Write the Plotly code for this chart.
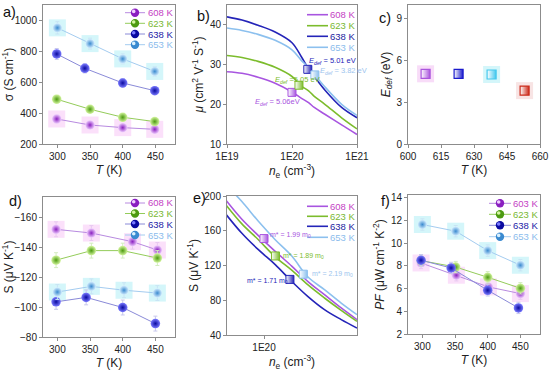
import numpy as np
import plotly.graph_objects as go

W, H = 550, 372
FONT = "Liberation Sans, Arial, sans-serif"

# ---------------- data ----------------
labels = ["608 K", "623 K", "638 K", "653 K"]
labels_f = ["603 K", "623 K", "638 K", "653 K"]

# (a) conductivity
T_sig = {"608 K": [299, 350, 400, 449], "623 K": [299, 350, 400, 449],
         "638 K": [299, 342, 400, 449], "653 K": [300, 350, 400, 449]}
sigma = {"608 K": [362, 323, 306, 295], "623 K": [490, 425, 373, 345],
         "638 K": [783, 690, 595, 545], "653 K": [952, 850, 751, 670]}
sigma_err = {"608 K": [25, 22, 20, 20], "623 K": [25, 22, 20, 20],
             "638 K": [35, 30, 28, 25], "653 K": [40, 35, 32, 30]}

# (b) mobility model curves
n_b = [1.0e19, 1.7e19, 3.0e19, 5.5e19, 1.0e20, 1.4e20, 1.8e20, 2.2e20, 3.2e20, 5.8e20, 1.0e21]
mu = {"608 K": [28.2, 27.8, 26.8, 25.3, 23.1, 21.5, 20.4, 19.2, 17.5, 14.8, 12.4],
      "623 K": [32.3, 31.8, 30.8, 29.3, 27.0, 24.6, 23.4, 22.0, 20.0, 16.6, 13.8],
      "638 K": [42.0, 41.2, 39.9, 38.2, 35.5, 31.9, 28.9, 27.0, 23.6, 19.2, 16.6],
      "653 K": [39.2, 38.6, 37.6, 36.1, 33.7, 31.0, 29.3, 27.6, 24.4, 20.0, 17.2]}
n_mu_pt = {"608 K": 1.0e20, "623 K": 1.28e20, "638 K": 1.75e20, "653 K": 2.25e20}
mu_pt = {"608 K": 23.0, "623 K": 24.8, "638 K": 28.8, "653 K": 27.4}
Edef_text = {"608 K": "5.06eV", "623 K": "5.05 eV", "638 K": "5.01 eV", "653 K": "3.82 eV"}

# (c) deformation potential
T_c = [608, 623, 638, 653]
Edef = [5.05, 5.05, 5.00, 3.84]

# (d) Seebeck
T_S = {"608 K": [298, 352, 415, 453], "623 K": [298, 352, 400, 453],
       "638 K": [298, 344, 400, 450], "653 K": [300, 352, 402, 453]}
S = {"608 K": [-152.3, -149.8, -144.0, -138.4], "623 K": [-131.6, -138.0, -138.0, -133.0],
     "638 K": [-103.6, -106.6, -99.8, -89.0], "653 K": [-110.2, -114.0, -111.4, -109.5]}

# (e) Pisarenko curves
n_e = [3.8e19, 5.75e19, 8.7e19, 1.32e20, 2.0e20, 2.95e20, 4.47e20, 6.76e20, 1.0e21]
S_curve = {"608 K": [196.6, 173.5, 154.4, 136.3, 119.0, 101.8, 86.4, 71.1, 57.7],
           "623 K": [191.2, 168.2, 149.7, 130.0, 114.4, 97.9, 82.6, 68.4, 55.7],
           "638 K": [180.4, 157.4, 138.2, 121.0, 101.4, 84.5, 69.2, 57.7, 48.0],
           "653 K": [214.0, 193.9, 170.9, 149.7, 130.6, 107.0, 92.2, 76.8, 63.4]}
n_S_pt = {"608 K": 1.0e20, "623 K": 1.33e20, "638 K": 1.9e20, "653 K": 2.65e20}
S_pt = {"608 K": 151, "623 K": 131, "638 K": 104, "653 K": 110}
mstar_text = {"608 K": "1.99", "623 K": "1.89", "638 K": "1.71", "653 K": "2.19"}

# (f) power factor
T_PF = {"608 K": [298, 352, 401, 450], "623 K": [298, 351, 400, 450],
        "638 K": [298, 344, 400, 447], "653 K": [300, 351, 400, 450]}
PF = {"608 K": [8.26, 7.18, 6.15, 5.56], "623 K": [8.47, 7.90, 7.00, 6.03],
      "638 K": [8.50, 7.82, 5.85, 4.30], "653 K": [11.65, 11.06, 9.35, 8.06]}

# ---------------- styles ----------------
dark = {"608 K": "#8a1fc0", "623 K": "#4c9a10", "638 K": "#0a0aa0", "653 K": "#3a8ad0"}
light = {"608 K": "#f0d0ff", "623 K": "#d4f5a0", "638 K": "#7a7aff", "653 K": "#d8f0ff"}
linec = {"608 K": "#b88ae0", "623 K": "#94cc5a", "638 K": "#8a8ad8", "653 K": "#a4ccf0"}
errc = {"608 K": "#e8c8f0", "623 K": "#d4ecc0", "638 K": "#c8c8ec", "653 K": "#c8e4f4"}
textc = {"608 K": "#c43fc4", "623 K": "#78b832", "638 K": "#2424a8", "653 K": "#8cbcec"}
curvec = {"608 K": "#a855e0", "623 K": "#7cbc2c", "638 K": "#2424b8", "653 K": "#8cc0ee"}
boxc = {"608 K": "#fbe0fa", "653 K": "#d4f6fa"}
c_colors = ["#aa55dd", "#1a1acc", "#44c8ee", "#cc2a1a"]
c_box = ["#f8dcf8", None, "#d4f6fa", "#f8e4e4"]


def px_x(x):
    return x / W


def px_y(y):
    return 1 - y / H


fig = go.Figure()


def scatter_panel(xa, ya, xs, ys, errs=None):
    for lab in labels:
        if lab in boxc:
            fig.add_trace(go.Scatter(x=xs[lab], y=ys[lab], mode="markers", xaxis=xa, yaxis=ya,
                                     marker=dict(symbol="square", size=17, color=boxc[lab]),
                                     showlegend=False, hoverinfo="skip"))
    for lab in labels:
        ed = None
        if errs is not None:
            ed = dict(type="data", array=errs[lab], color=errc[lab], thickness=1, width=2)
        fig.add_trace(go.Scatter(x=xs[lab], y=ys[lab], mode="lines+markers", xaxis=xa, yaxis=ya,
                                 line=dict(color=linec[lab], width=1),
                                 error_y=ed,
                                 marker=dict(size=9.5, color=light[lab],
                                             gradient=dict(type="radial", color=dark[lab]),
                                             line=dict(width=0)),
                                 showlegend=False, name=lab))


S_err = {lab: [5, 5, 5, 5] for lab in labels}
PF_err = {lab: [0.5, 0.5, 0.5, 0.5] for lab in labels}

scatter_panel("x", "y", T_sig, sigma, sigma_err)
scatter_panel("x4", "y4", T_S, S, S_err)
scatter_panel("x6", "y6", T_PF, PF, PF_err)

# (b) curves
for lab in labels:
    fig.add_trace(go.Scatter(x=n_b, y=mu[lab], mode="lines", xaxis="x2", yaxis="y2",
                             line=dict(color=curvec[lab], width=1.6, shape="spline"),
                             showlegend=False))
for lab in labels:
    fig.add_trace(go.Scatter(x=[n_mu_pt[lab]], y=[mu_pt[lab]], mode="markers", xaxis="x2", yaxis="y2",
                             marker=dict(symbol="square", size=8, color="white",
                                         gradient=dict(type="horizontal", color=curvec[lab]),
                                         line=dict(color=curvec[lab], width=1)),
                             showlegend=False))
# (e) curves
for lab in labels:
    fig.add_trace(go.Scatter(x=n_e, y=S_curve[lab], mode="lines", xaxis="x5", yaxis="y5",
                             line=dict(color=curvec[lab], width=1.6, shape="spline"),
                             showlegend=False))
for lab in labels:
    fig.add_trace(go.Scatter(x=[n_S_pt[lab]], y=[S_pt[lab]], mode="markers", xaxis="x5", yaxis="y5",
                             marker=dict(symbol="square", size=8, color="white",
                                         gradient=dict(type="horizontal", color=curvec[lab]),
                                         line=dict(color=curvec[lab], width=1)),
                             showlegend=False))
# (c)
for i in range(4):
    if c_box[i]:
        fig.add_trace(go.Scatter(x=[T_c[i]], y=[Edef[i]], mode="markers", xaxis="x3", yaxis="y3",
                                 marker=dict(symbol="square", size=17, color=c_box[i]),
                                 showlegend=False, hoverinfo="skip"))
    fig.add_trace(go.Scatter(x=[T_c[i]], y=[Edef[i]], mode="markers", xaxis="x3", yaxis="y3",
                             marker=dict(symbol="square", size=9, color="white",
                                         gradient=dict(type="horizontal", color=c_colors[i]),
                                         line=dict(color=c_colors[i], width=1.2)),
                             showlegend=False))

# ---------------- axes ----------------
ax_common = dict(showline=True, mirror=True, linecolor="#8c8c8c", linewidth=1, ticks="outside",
                 ticklen=3, tickcolor="#8c8c8c", showgrid=False, zeroline=False, automargin=False,
                 tickfont=dict(size=10, color="#222", family=FONT),
                 title_font=dict(size=12, color="#222", family=FONT))

top = [px_y(144), px_y(5)]
cols = [[px_x(43), px_x(175)], [px_x(227), px_x(357)], [px_x(408), px_x(540)]]

T_title = dict(text="<i>T</i> (K)", standoff=4)
n_title = dict(text="<i>n</i><sub>e</sub> (cm<sup>-3</sup>)", standoff=4)

fig.update_layout(
    xaxis=dict(ax_common, domain=cols[0], anchor="y", range=[278, 480], tickvals=[300, 350, 400, 450], title=T_title),
    yaxis=dict(ax_common, domain=top, anchor="x", range=[200, 1100], tickvals=[200, 400, 600, 800, 1000],
               title=dict(text="σ (S cm<sup>-1</sup>)", standoff=3)),
    xaxis2=dict(ax_common, domain=cols[1], anchor="y2", type="log", range=[19, 21],
                tickvals=[1e19, 1e20, 1e21], ticktext=["1E19", "1E20", "1E21"], title=n_title),
    yaxis2=dict(ax_common, domain=top, anchor="x2", range=[10, 45], tickvals=[10, 20, 30, 40],
                title=dict(text="<i>μ</i> (cm<sup>2</sup> V<sup>-1</sup> S<sup>-1</sup>)", standoff=3)),
    xaxis3=dict(ax_common, domain=cols[2], anchor="y3", range=[600, 660], tickvals=[600, 615, 630, 645, 660],
                title=T_title),
    yaxis3=dict(ax_common, domain=top, anchor="x3", range=[0, 10], tickvals=[0, 3, 6, 9],
                title=dict(text="<i>E<sub>def</sub></i> (eV)", standoff=3)),
    xaxis4=dict(ax_common, domain=cols[0], anchor="y4", range=[278, 480], tickvals=[300, 350, 400, 450], title=T_title),
    yaxis4=dict(ax_common, domain=[px_y(337), px_y(197)], anchor="x4", range=[-80, -174],
                tickvals=[-80, -100, -120, -140, -160],
                title=dict(text="S (μV K<sup>-1</sup>)", standoff=3)),
    xaxis5=dict(ax_common, domain=cols[1], anchor="y5", type="log", range=[np.log10(4e19), 21],
                tickvals=[1e20], ticktext=["1E20"], title=n_title),
    yaxis5=dict(ax_common, domain=[px_y(335), px_y(196)], anchor="x5", range=[40, 200],
                tickvals=[40, 80, 120, 160, 200],
                title=dict(text="S (μV K<sup>-1</sup>)", standoff=3)),
    xaxis6=dict(ax_common, domain=cols[2], anchor="y6", range=[278, 480], tickvals=[300, 350, 400, 450], title=T_title),
    yaxis6=dict(ax_common, domain=[px_y(334), px_y(195)], anchor="x6", range=[2, 14.25],
                tickvals=[2, 4, 6, 8, 10, 12, 14],
                title=dict(text="<i>PF</i> (μW cm<sup>-1</sup> K<sup>-2</sup>)", standoff=3)),
)

shapes = []
annotations = []


def ann(x, y, text, size=10, color="#222", xanchor="left"):
    annotations.append(dict(x=px_x(x), y=px_y(y), xref="paper", yref="paper", text=text,
                            showarrow=False, xanchor=xanchor, yanchor="middle",
                            font=dict(size=size, color=color, family=FONT)))


def sphere_key(cx, cy, lab, r=4.2):
    shapes.append(dict(type="circle", xref="paper", yref="paper",
                       x0=px_x(cx - r), x1=px_x(cx + r), y0=px_y(cy + r), y1=px_y(cy - r),
                       fillcolor=dark[lab], line=dict(width=0)))
    rr = 1.8
    shapes.append(dict(type="circle", xref="paper", yref="paper",
                       x0=px_x(cx - 1.3 - rr), x1=px_x(cx - 1.3 + rr), y0=px_y(cy - 1.3 + rr),
                       y1=px_y(cy - 1.3 - rr), fillcolor=light[lab], line=dict(width=0)))


def line_key(x0, x1, y, color, w):
    shapes.append(dict(type="line", xref="paper", yref="paper", x0=px_x(x0), x1=px_x(x1),
                       y0=px_y(y), y1=px_y(y), line=dict(color=color, width=w)))


def sphere_legend(lx0, lx1, mx, tx, ys, labs):
    for lab, y, txt in zip(labels, ys, labs):
        line_key(lx0, lx1, y, linec[lab], 1)
        sphere_key(mx, y, lab)
        ann(tx, y, txt, 9.5, textc[lab])


def curve_legend(lx0, lx1, tx, ys):
    for lab, y in zip(labels, ys):
        line_key(lx0, lx1, y, curvec[lab], 1.6)
        ann(tx, y, lab, 9.5, textc[lab] if lab != "638 K" else "#1c1ca0")


sphere_legend(125, 145, 135, 146, [12.7, 23.3, 34.0, 44.7], labels)
sphere_legend(125, 145, 135, 146, [203.0, 213.5, 224.0, 235.0], labels)
sphere_legend(489, 511, 500, 511, [203.3, 214.3, 225.3, 236.7], labels_f)
curve_legend(307, 328, 328, [14.7, 25.7, 36.3, 47.3])
curve_legend(307, 328, 328, [206.3, 216.3, 226.3, 237.3])

# panel labels
for (x, y, t) in [(9, 12, "a)"), (203, 16, "b)"), (385, 18, "c)"),
                  (15, 201, "d)"), (199, 198, "e)"), (385, 201, "f)")]:
    ann(x, y, t, 14.5, "#111", xanchor="center")

# Edef annotations in (b)
E = "<i>E</i><sub><i>def</i></sub>"
ann(307, 61, E + " = " + Edef_text["638 K"], 7.5, "#2424b8")
ann(318, 71, E + " = " + Edef_text["653 K"], 7.5, "#9cc4ee")
ann(273, 80, E + " =" + Edef_text["623 K"], 7.5, "#7cbc2c")
ann(253, 102, E + " = " + Edef_text["608 K"], 7.5, "#a855e0")

# m* annotations in (e)
ann(268, 235, "m* = " + mstar_text["608 K"] + " m<sub>0</sub>", 7, "#a855e0")
ann(281, 256, "m* = " + mstar_text["623 K"] + " m<sub>0</sub>", 7, "#7cbc2c")
ann(310, 274, "m* = " + mstar_text["653 K"] + " m<sub>0</sub>", 7, "#9cc4ee")
ann(245, 281, "m* = " + mstar_text["638 K"] + " m<sub>0</sub>", 7, "#2424b8")

fig.update_layout(width=W, height=H, margin=dict(l=0, r=0, t=0, b=0),
                  paper_bgcolor="white", plot_bgcolor="white",
                  font=dict(family=FONT, size=10, color="#222"),
                  shapes=shapes, annotations=annotations, showlegend=False)

fig.write_html("out.html", config={"displayModeBar": False},
               post_script="document.body.style.margin='0';document.body.style.overflow='hidden';")
